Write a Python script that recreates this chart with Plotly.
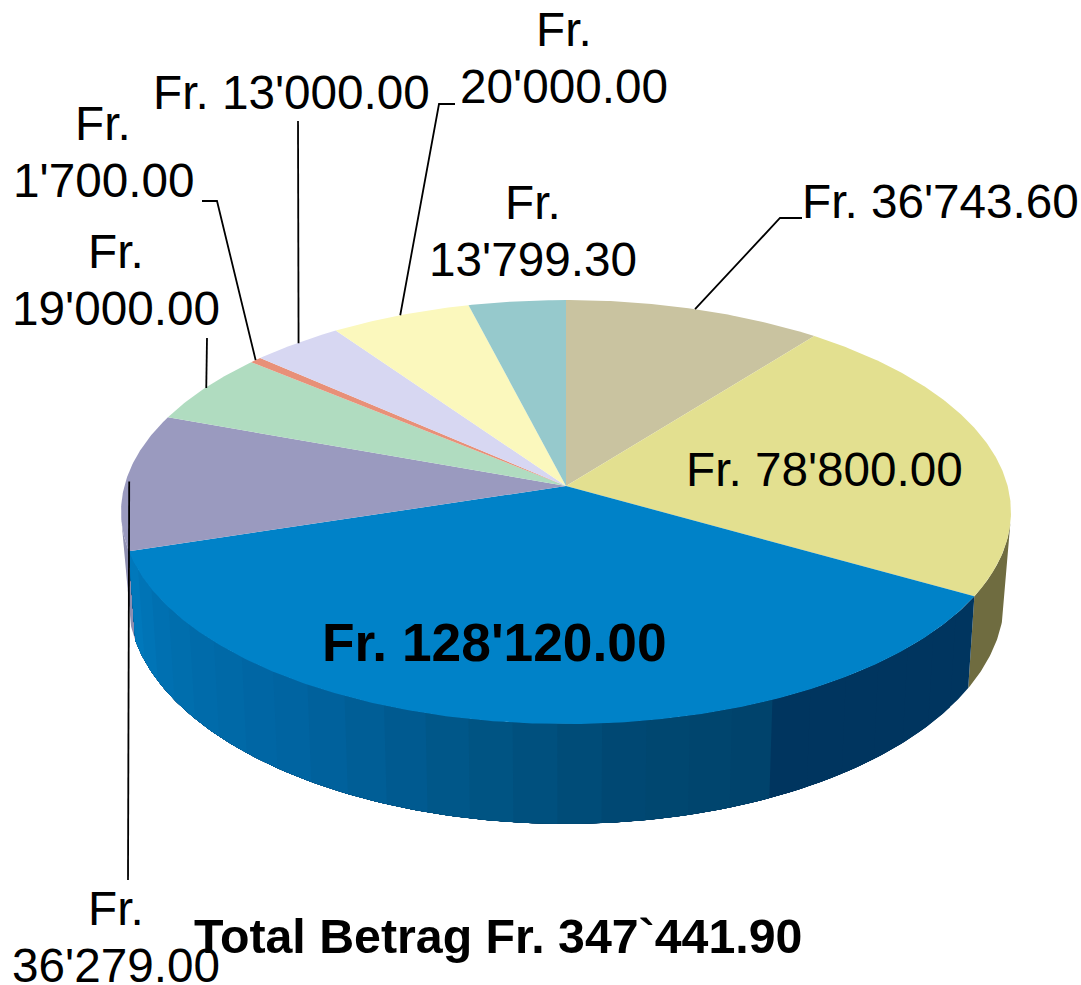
import math
import plotly.graph_objects as go

# --- data ---
amounts = [36743.60, 78800.00, 128120.00, 36279.00, 19000.00, 1700.00, 13000.00, 20000.00, 13799.30]
label_lines = [
    ["Fr. 36'743.60"], ["Fr. 78'800.00"], ["Fr. 128'120.00"],
    ["Fr.", "36'279.00"], ["Fr.", "19'000.00"], ["Fr.", "1'700.00"],
    ["Fr. 13'000.00"], ["Fr.", "20'000.00"], ["Fr.", "13'799.30"],
]
title_text = "Total Betrag Fr. 347`441.90"

# --- style ---
top_colors = ["#C9C3A0", "#E3E090", "#0082C8", "#9A9ABF", "#B0DCC0", "#E89078", "#D7D7F2", "#FBF8BD", "#96C9CC"]
wall_flat = {1: "#6F6C40", 3: "#8E8EB0"}
blue_wall_stops = [(0.0, (0, 53, 95)), (0.25, (0, 53, 95)), (0.252, (0, 66, 106)), (0.40, (0, 72, 114)), (0.53, (0, 85, 133)),
                   (0.70, (0, 99, 160)), (0.90, (0, 112, 176)), (1.0, (0, 122, 190))]
label_centers = [(940, 201), (824, 469), (494, 642), (116, 908), (116, 251), (103, 123), (291, 92), (564, 29), (533, 202)]
label_font = [47.7, 47.7, 53.3, 47.7, 47.7, 47.7, 47.7, 47.7, 47.7]
label_bold = [False, False, True, False, False, False, False, False, False]
line_step = 57
# leader bends per slice (rim anchor first, then these)
leaders = {
    0: [(780, 218), (802, 218)],
    3: [(128, 880)],
    4: [(207, 338)],
    5: [(217, 201), (202, 201)],
    6: [(298, 121)],
    7: [(439, 104), (455, 104)],
}
leader_dx = {3: 3.5, 6: 2, 4: 1}

# --- projection of the tilted disc ---
CX, CY, A, B, K = 566, 486, 441.6, 208.8, 0.1227
SX, CY2, B2 = 0.985, 571, 221.8


def top(theta):
    x, y = math.sin(theta), math.cos(theta)
    d = 1 + K * y
    return CX + A * x / d, CY - B * y / d


def bottom(theta):
    x, y = math.sin(theta), math.cos(theta)
    d = 1 + K * y
    return CX + SX * A * x / d, CY2 - B2 * y / d


def lerp_stops(t):
    for (t0, c0), (t1, c1) in zip(blue_wall_stops, blue_wall_stops[1:]):
        if t <= t1:
            f = (t - t0) / (t1 - t0)
            return "rgb(%d,%d,%d)" % tuple(round(a + (b - a) * f) for a, b in zip(c0, c1))
    return "rgb(%d,%d,%d)" % blue_wall_stops[-1][1]


total = sum(amounts)
edges = [0.0]
for v in amounts:
    edges.append(edges[-1] + v / total * 2 * math.pi)

fig = go.Figure()


def poly(xs, ys, color):
    fig.add_trace(go.Scatter(x=xs, y=ys, mode="lines", fill="toself", fillcolor=color,
                             line=dict(color=color, width=0), hoverinfo="skip", showlegend=False))


def arc(fn, a0, a1):
    n = max(2, int(abs(a1 - a0) / math.radians(0.5)))
    return [fn(a0 + (a1 - a0) * i / n) for i in range(n + 1)]


def wall(t0, t1, b0, b1, color):
    pts = arc(top, t0, t1) + arc(bottom, b1, b0)
    poly([p[0] for p in pts], [p[1] for p in pts], color)


# side walls: the tangent from upper to lower rim closes each outer wall
wall(math.radians(100), edges[2], math.radians(103), edges[2], wall_flat[1])
wall(edges[3], math.radians(260), edges[3], math.radians(257), wall_flat[3])
# blue wall: painted band over band so no seams show
bands = 26
for i in range(bands):
    a0 = edges[2] + (edges[3] - edges[2]) * i / bands
    wall(a0, edges[3], a0, edges[3], lerp_stops((i + 0.5) / bands))

# top face
for i, color in enumerate(top_colors):
    pts = [(CX, CY)] + arc(top, edges[i], edges[i + 1]) + [(CX, CY)]
    poly([p[0] for p in pts], [p[1] for p in pts], color)

# leader lines
for i, bends in leaders.items():
    ax, ay = top((edges[i] + edges[i + 1]) / 2)
    pts = [(ax + leader_dx.get(i, 0), ay)] + bends
    fig.add_trace(go.Scatter(x=[p[0] for p in pts], y=[p[1] for p in pts], mode="lines",
                             line=dict(color="black", width=1.8), hoverinfo="skip", showlegend=False))

# labels
annotations = []
for lines, (cx, cy), size, bold in zip(label_lines, label_centers, label_font, label_bold):
    for j, line in enumerate(lines):
        annotations.append(dict(x=cx, y=cy + j * line_step, xref="x", yref="y", text=f"<b>{line}</b>" if bold else line,
                                showarrow=False, xanchor="center", yanchor="middle",
                                font=dict(family="Liberation Sans", size=size, color="black")))
annotations.append(dict(x=498, y=936, xref="x", yref="y", text=f"<b>{title_text}</b>", showarrow=False,
                        xanchor="center", yanchor="middle",
                        font=dict(family="Liberation Sans", size=48.3, color="black")))

fig.update_layout(
    width=1081, height=985, margin=dict(l=0, r=0, t=0, b=0),
    paper_bgcolor="white", plot_bgcolor="white", showlegend=False, annotations=annotations,
    xaxis=dict(range=[0, 1081], visible=False, fixedrange=True),
    yaxis=dict(range=[985, 0], visible=False, fixedrange=True),
)
fig.write_html("out.html", config=dict(displayModeBar=False),
               post_script="document.body.style.margin='0';document.body.style.overflow='hidden';")
